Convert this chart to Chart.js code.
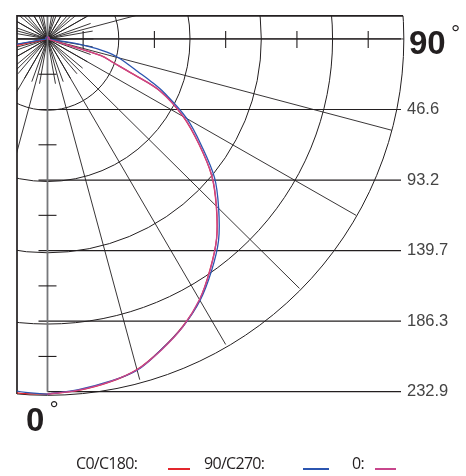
<!DOCTYPE html>
<html>
<head>
<meta charset="utf-8">
<script src="https://cdn.jsdelivr.net/npm/chart.js@4/dist/chart.umd.min.js"></script>
<style>
  html, body { margin: 0; padding: 0; background: #ffffff; }
  #wrap { position: relative; width: 466px; height: 476px; overflow: hidden; }
  #wrap canvas { position: absolute; left: 0; top: 0; }
  .lt { position: absolute; top: 453px; font-family: "Open Sans", sans-serif; font-size: 16px; line-height: 20px; letter-spacing: -0.7px; color: #231f20; white-space: nowrap; }
  .ll { position: absolute; top: 468px; height: 1.5px; }
</style>
</head>
<body>
<div id="wrap"><canvas id="c" width="466" height="476"></canvas></div>
<script>
// ---- data (luminous intensity, cd, vs. vertical angle in degrees) ----
const angles      = [0, 5, 10, 15, 20, 25, 30, 35, 40, 45, 50, 55, 60, 65, 67.5, 70, 72.5, 75, 77.5, 80, 82.5, 85, 90, 135, 180];
const c0Values    = [234.5, 232.9, 230.3, 226.0, 218.0, 209.3, 198.9, 185.4, 172.0, 156.0, 140.0, 120.7, 102.4, 81.0, 60.3, 46.0, 36.8, 2.0, 1.3, 1.0, 1.0, 1.0, 1.0, 1.3, 1.3];
const c180Values  = [234.5, 234.5, 231.4, 226.8, 219.0, 209.8, 199.3, 186.3, 172.5, 156.9, 140.5, 121.6, 103.3, 81.7, 62.7, 47.1, 37.9, 32.7, 27.5, 1.3, 1.0, 1.0, 1.0, 1.3, 1.3];
const c90Values   = [234.5, 232.4, 229.8, 226.4, 218.0, 209.5, 199.4, 186.9, 173.9, 158.2, 142.5, 122.9, 105.2, 84.3, 73.2, 62.7, 54.9, 48.4, 39.8, 23.6, 2.0, 1.0, 1.0, 1.3, 1.3];
const c270Values  = [234.5, 233.3, 230.1, 225.7, 217.7, 209.2, 199.2, 186.6, 173.6, 158.0, 142.3, 122.7, 104.9, 84.5, 73.4, 62.9, 55.2, 48.7, 40.1, 24.1, 2.5, 1.0, 1.0, 1.3, 1.3];
const zeroValues  = [234.5, 232.7, 230.1, 226.1, 218.3, 209.5, 198.7, 185.6, 171.9, 156.2, 140.2, 120.9, 102.6, 81.1, 60.1, 45.8, 36.6, 2.0, 1.3, 1.0, 1.0, 1.0, 1.0, 1.3, 1.3];
const ringValues  = [46.58, 93.16, 139.74, 186.32, 232.9];
const seriesNames = ['C0/C180:', '90/C270:', '0:'];
const seriesColors = ['#e3262d', '#2b55b0', '#c8468c'];
const axisLabels  = ['90', '0'];

// ---- helpers ----
const rad = d => d * Math.PI / 180;
function polarSide(vals, sign) {
  return angles.map((a, i) => ({ x: sign * vals[i] * Math.sin(rad(a)), y: vals[i] * Math.cos(rad(a)) }));
}
function fullPlane(leftVals, rightVals) {
  return polarSide(leftVals, -1).reverse().concat(polarSide(rightVals, 1));
}

const INK = '#231f20';

const gridPlugin = {
  id: 'photometricGrid',
  beforeDatasetsDraw(chart) {
    const { ctx, chartArea: ca, scales: { x, y } } = chart;
    const ox = x.getPixelForValue(0), oy = y.getPixelForValue(0);
    const pr = v => x.getPixelForValue(v) - ox;
    const outer = ringValues[ringValues.length - 1];
    const R = pr(outer);
    const P = (vx, vy) => [x.getPixelForValue(vx), y.getPixelForValue(vy)];

    ctx.save();
    ctx.beginPath();
    ctx.rect(ca.left, ca.top, ca.right - ca.left + 6, ca.bottom - ca.top);
    ctx.clip();

    ctx.strokeStyle = INK;
    ctx.lineWidth = 1;
    ringValues.forEach(v => {
      ctx.beginPath();
      ctx.arc(ox, oy, pr(v), 0, Math.PI * 2);
      ctx.stroke();
    });

    ctx.lineWidth = 0.9;
    for (let a = 0; a < 360; a += 10) {
      const [ex, ey] = P(30 * Math.sin(rad(a)), 30 * Math.cos(rad(a)));
      ctx.beginPath(); ctx.moveTo(ox, oy); ctx.lineTo(ex, ey); ctx.stroke();
    }
    for (let a = 0; a < 360; a += 15) {
      const [ex, ey] = P(outer * Math.sin(rad(a)), outer * Math.cos(rad(a)));
      ctx.beginPath(); ctx.moveTo(ox, oy); ctx.lineTo(ex, ey); ctx.stroke();
    }

    ctx.lineWidth = 1.2;
    ringValues.forEach((v, i) => {
      const py = y.getPixelForValue(v);
      const x0 = i === ringValues.length - 1 ? ox : ox - 9;
      ctx.beginPath(); ctx.moveTo(x0, py); ctx.lineTo(ca.right, py); ctx.stroke();
    });

    ctx.beginPath(); ctx.moveTo(ca.left, oy); ctx.lineTo(ca.right, oy); ctx.stroke();

    ctx.strokeStyle = '#77787b';
    ctx.lineWidth = 1.8;
    ctx.beginPath(); ctx.moveTo(ox, ca.top); ctx.lineTo(ox, y.getPixelForValue(outer)); ctx.stroke();

    ctx.strokeStyle = INK;
    ctx.lineWidth = 1.1;
    ringValues.forEach(v => {
      const h = v - ringValues[0] / 2;
      const py = y.getPixelForValue(h);
      ctx.beginPath(); ctx.moveTo(ox - 9, py); ctx.lineTo(ox + 9, py); ctx.stroke();
      const px = x.getPixelForValue(h);
      ctx.beginPath(); ctx.moveTo(px, oy - 8); ctx.lineTo(px, oy + 9); ctx.stroke();
    });
    ctx.restore();

    ctx.save();
    ctx.strokeStyle = INK;
    ctx.lineWidth = 1.7;
    const leftEnd = oy + Math.sqrt(R * R - (ca.left - ox) * (ca.left - ox));
    const topEnd = ox + Math.sqrt(R * R - (ca.top - oy) * (ca.top - oy));
    ctx.beginPath();
    ctx.moveTo(ca.left, leftEnd);
    ctx.lineTo(ca.left, ca.top);
    ctx.lineTo(Math.min(topEnd, ca.right + 3), ca.top);
    ctx.stroke();
    ctx.restore();
  },
  afterDraw(chart) {
    const { ctx, scales: { x, y } } = chart;
    const ox = x.getPixelForValue(0), oy = y.getPixelForValue(0);
    const outerPy = y.getPixelForValue(ringValues[ringValues.length - 1]);
    ctx.save();
    ctx.fillStyle = INK;
    ctx.textBaseline = 'alphabetic';
    ctx.textAlign = 'left';
    ctx.font = 'bold 33px "Liberation Sans", Arial, sans-serif';
    ctx.fillText(axisLabels[0], 409, oy + 15);
    ctx.fillText(axisLabels[1], ox - 21.5, outerPy + 39);
    ctx.font = '300 23px "Liberation Sans", Arial, sans-serif';
    ctx.fillText('\u00B0', 451, oy + 2);
    ctx.fillText('\u00B0', ox + 2, outerPy + 25);
    ctx.restore();
  }
};

const ds = (label, data, color, order) => ({
  label, data, borderColor: color, backgroundColor: color,
  showLine: true, pointRadius: 0, borderWidth: 1.3, tension: 0.35, fill: false, order
});

new Chart(document.getElementById('c'), {
  type: 'scatter',
  data: {
    datasets: [
      ds(seriesNames[0], fullPlane(c180Values, c0Values), seriesColors[0], 2),
      ds(seriesNames[1], fullPlane(c270Values, c90Values), seriesColors[1], 1),
      ds(seriesNames[2], polarSide(zeroValues, 1), seriesColors[2], 0)
    ]
  },
  options: {
    responsive: false,
    maintainAspectRatio: false,
    animation: false,
    events: [],
    layout: { padding: { left: 17, top: 12, right: 0, bottom: 76 } },
    plugins: { legend: { display: false }, tooltip: { enabled: false } },
    scales: {
      x: { type: 'linear', display: false, min: -19.93, max: 231.05 },
      y: {
        type: 'linear', position: 'right', reverse: true, min: -15.23, max: 238.37,
        grid: { display: false, drawTicks: false },
        border: { display: false },
        afterBuildTicks: s => { s.ticks = ringValues.map(v => ({ value: v })); },
        afterFit: s => { s.width = 65; },
        ticks: {
          autoSkip: false, padding: 6, color: '#444444',
          font: { family: '"Liberation Sans", Arial, sans-serif', size: 16.5 },
          callback: v => Number(v).toFixed(1)
        }
      }
    }
  },
  plugins: [gridPlugin]
});

const wrap = document.getElementById('wrap');
const textLeft = [76, 204, 352];
const lineLeft = [168, 303, 375];
const lineWidth = [22, 26, 21];
seriesNames.forEach((n, i) => {
  const t = document.createElement('span');
  t.className = 'lt'; t.textContent = n; t.style.left = textLeft[i] + 'px';
  wrap.appendChild(t);
  const l = document.createElement('span');
  l.className = 'll'; l.style.left = lineLeft[i] + 'px'; l.style.width = lineWidth[i] + 'px';
  l.style.background = seriesColors[i];
  wrap.appendChild(l);
});
</script>
</body>
</html>
